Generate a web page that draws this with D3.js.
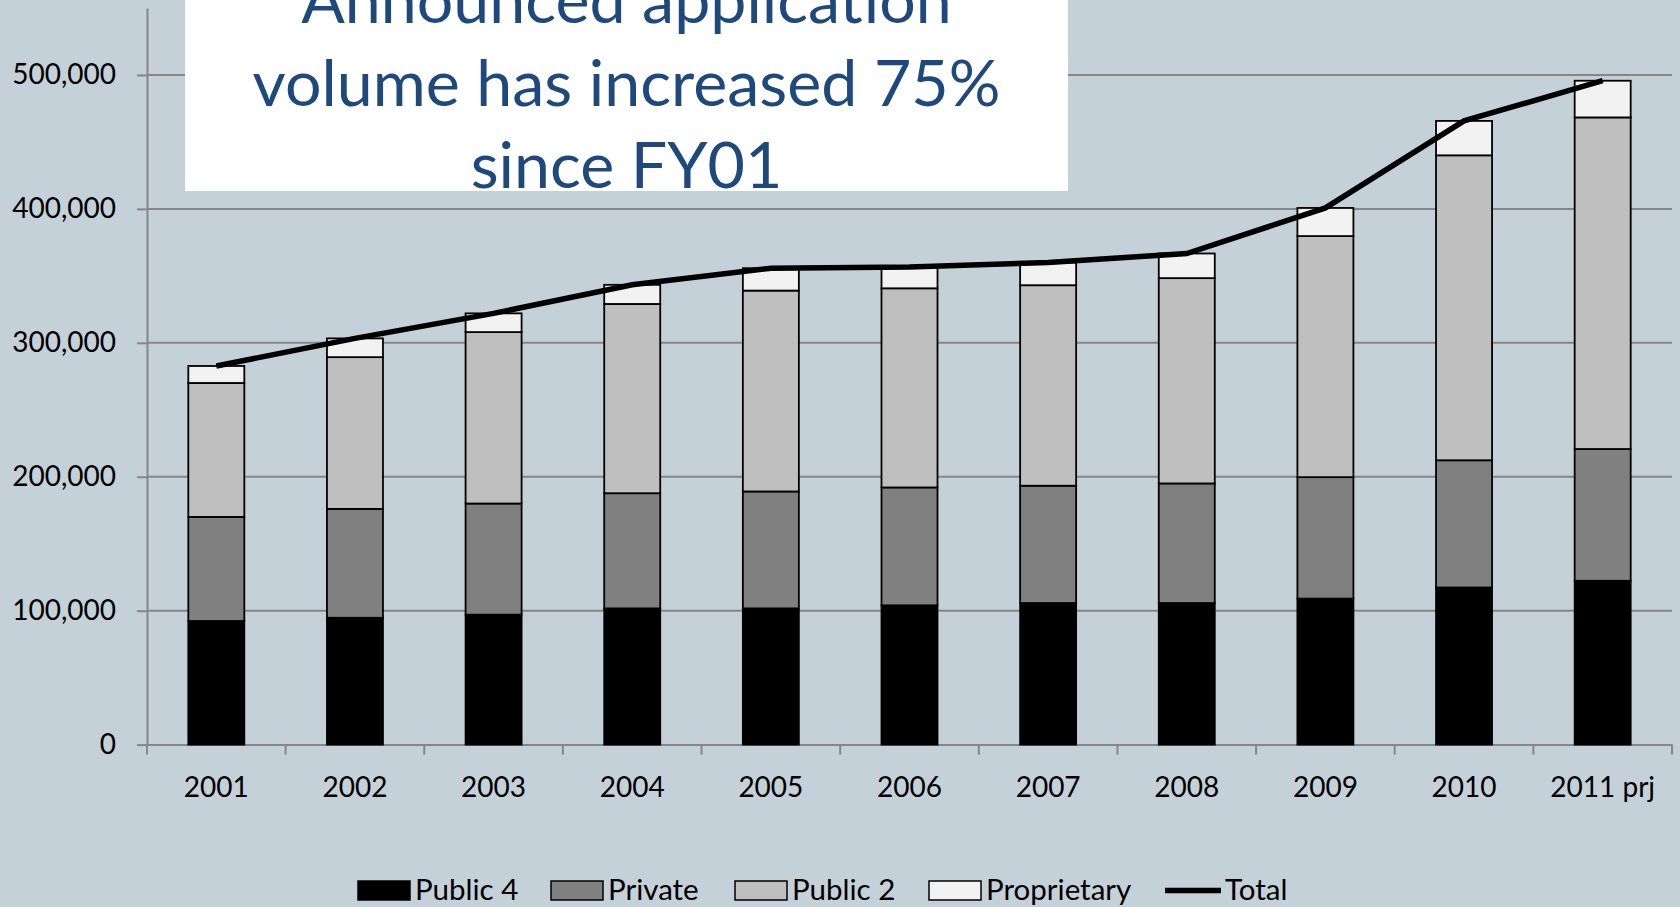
<!DOCTYPE html>
<html>
<head>
<meta charset="utf-8">
<script src="https://cdn.jsdelivr.net/npm/d3@7"></script>
<style>
  html, body { margin: 0; padding: 0; background: #c5d1d8; }
  svg { display: block; font-family: Lato, "Open Sans", sans-serif; }
  .axis text { font-family: Lato, "Open Sans", sans-serif; font-size: 28px; fill: #000; }
  .axis path, .axis line { stroke: #868686; stroke-width: 2; }
  .grid line { stroke: #868686; stroke-width: 2; }
  .legend text { font-size: 29.5px; fill: #000; }
  .title { font-size: 64.5px; fill: #1f497d; }
</style>
</head>
<body>
<svg id="chart" width="1680" height="907"></svg>
<script>
// ---------- Data ----------
const years = ["2001", "2002", "2003", "2004", "2005", "2006", "2007", "2008", "2009", "2010", "2011 prj"];
const public4     = [92300, 94700, 97000, 101700, 101700, 104000, 105700, 105700, 109000, 117300, 122300];
const privateNp   = [77700, 81300, 83000, 86000, 87300, 88000, 87600, 89300, 90700, 95000, 98400];
const public2     = [100000, 113300, 128000, 141300, 150000, 148700, 149700, 153300, 180000, 227700, 247600];
const proprietary = [12700, 14000, 14000, 14300, 16700, 16000, 17000, 18400, 21000, 25700, 27400];
const total       = [282700, 303300, 322000, 343300, 355700, 356700, 360000, 366700, 400700, 465700, 495700];
const yTicks = [0, 100000, 200000, 300000, 400000, 500000];
const titleLines = ["Announced application", "volume has increased 75%", "since FY01"];

const seriesNames = ["Public 4", "Private", "Public 2", "Proprietary"];
const seriesVals = [public4, privateNp, public2, proprietary];
const seriesFill = ["#000000", "#808080", "#bfbfbf", "#f2f2f2"];

// ---------- Layout ----------
const svg = d3.select("#chart");
const plot = { left: 147, right: 1672, top: 8, bottom: 744.6 };

const x = d3.scaleBand()
  .domain(years)
  .range([plot.left, plot.right])
  .paddingInner(0.596)
  .paddingOuter(0.298);

const y = d3.scaleLinear().domain([0, 550000]).range([plot.bottom, plot.top]);

// stacked table
const rows = years.map((yr, i) => {
  const r = { year: yr };
  seriesNames.forEach((s, k) => r[s] = seriesVals[k][i]);
  return r;
});
const stacked = d3.stack().keys(seriesNames)(rows);

// ---------- Grid ----------
svg.append("g").attr("class", "grid")
  .selectAll("line")
  .data(yTicks.filter(d => d > 0))
  .join("line")
    .attr("x1", plot.left).attr("x2", plot.right)
    .attr("y1", d => y(d)).attr("y2", d => y(d));

// ---------- Title box ----------
svg.append("rect")
  .attr("x", 185).attr("y", 0)
  .attr("width", 883).attr("height", 191)
  .attr("fill", "#ffffff");

svg.append("g")
  .selectAll("text")
  .data(titleLines)
  .join("text")
    .attr("class", "title")
    .attr("x", 626.5)
    .attr("y", (d, i) => 23 + i * 82.5)
    .attr("text-anchor", "middle")
    .text(d => d);

// ---------- Axes ----------
svg.append("g").attr("class", "axis")
  .attr("transform", `translate(${plot.left},0)`)
  .call(d3.axisLeft(y).tickValues(yTicks).tickFormat(d3.format(",")).tickSize(10).tickPadding(21).tickSizeOuter(0));

const xAxisG = svg.append("g").attr("class", "axis")
  .attr("transform", `translate(0,${plot.bottom})`)
  .call(d3.axisBottom(x).tickSize(0).tickPadding(33));

// category boundary ticks
xAxisG.selectAll(".bound")
  .data(d3.range(years.length + 1))
  .join("line")
    .attr("class", "bound")
    .attr("x1", i => plot.left + i * x.step())
    .attr("x2", i => plot.left + i * x.step())
    .attr("y1", 0).attr("y2", 10);

// ---------- Bars ----------
svg.append("g")
  .selectAll("g")
  .data(stacked)
  .join("g")
    .attr("fill", (d, k) => seriesFill[k])
  .selectAll("rect")
  .data(d => d)
  .join("rect")
    .attr("x", d => x(d.data.year))
    .attr("width", x.bandwidth())
    .attr("y", d => y(d[1]))
    .attr("height", d => y(d[0]) - y(d[1]))
    .attr("stroke", "#000")
    .attr("stroke-width", 1.8);

// ---------- Total line ----------
const line = d3.line()
  .x((d, i) => x(years[i]) + x.bandwidth() / 2)
  .y(d => y(d));

svg.append("path")
  .attr("d", line(total))
  .attr("fill", "none")
  .attr("stroke", "#000")
  .attr("stroke-width", 5.5);

// ---------- Legend ----------
const legendX = [358, 551, 735, 929];
const lg = svg.append("g").attr("class", "legend");

seriesNames.forEach((name, k) => {
  lg.append("rect")
    .attr("x", legendX[k]).attr("y", 881)
    .attr("width", 52).attr("height", 19)
    .attr("fill", seriesFill[k])
    .attr("stroke", "#000").attr("stroke-width", 1.5);
  lg.append("text")
    .attr("x", legendX[k] + 57).attr("y", 900)
    .text(name);
});

lg.append("line")
  .attr("x1", 1165).attr("x2", 1221)
  .attr("y1", 890.5).attr("y2", 890.5)
  .attr("stroke", "#000").attr("stroke-width", 5.5);
lg.append("text")
  .attr("x", 1225).attr("y", 900)
  .text("Total");
</script>
</body>
</html>
